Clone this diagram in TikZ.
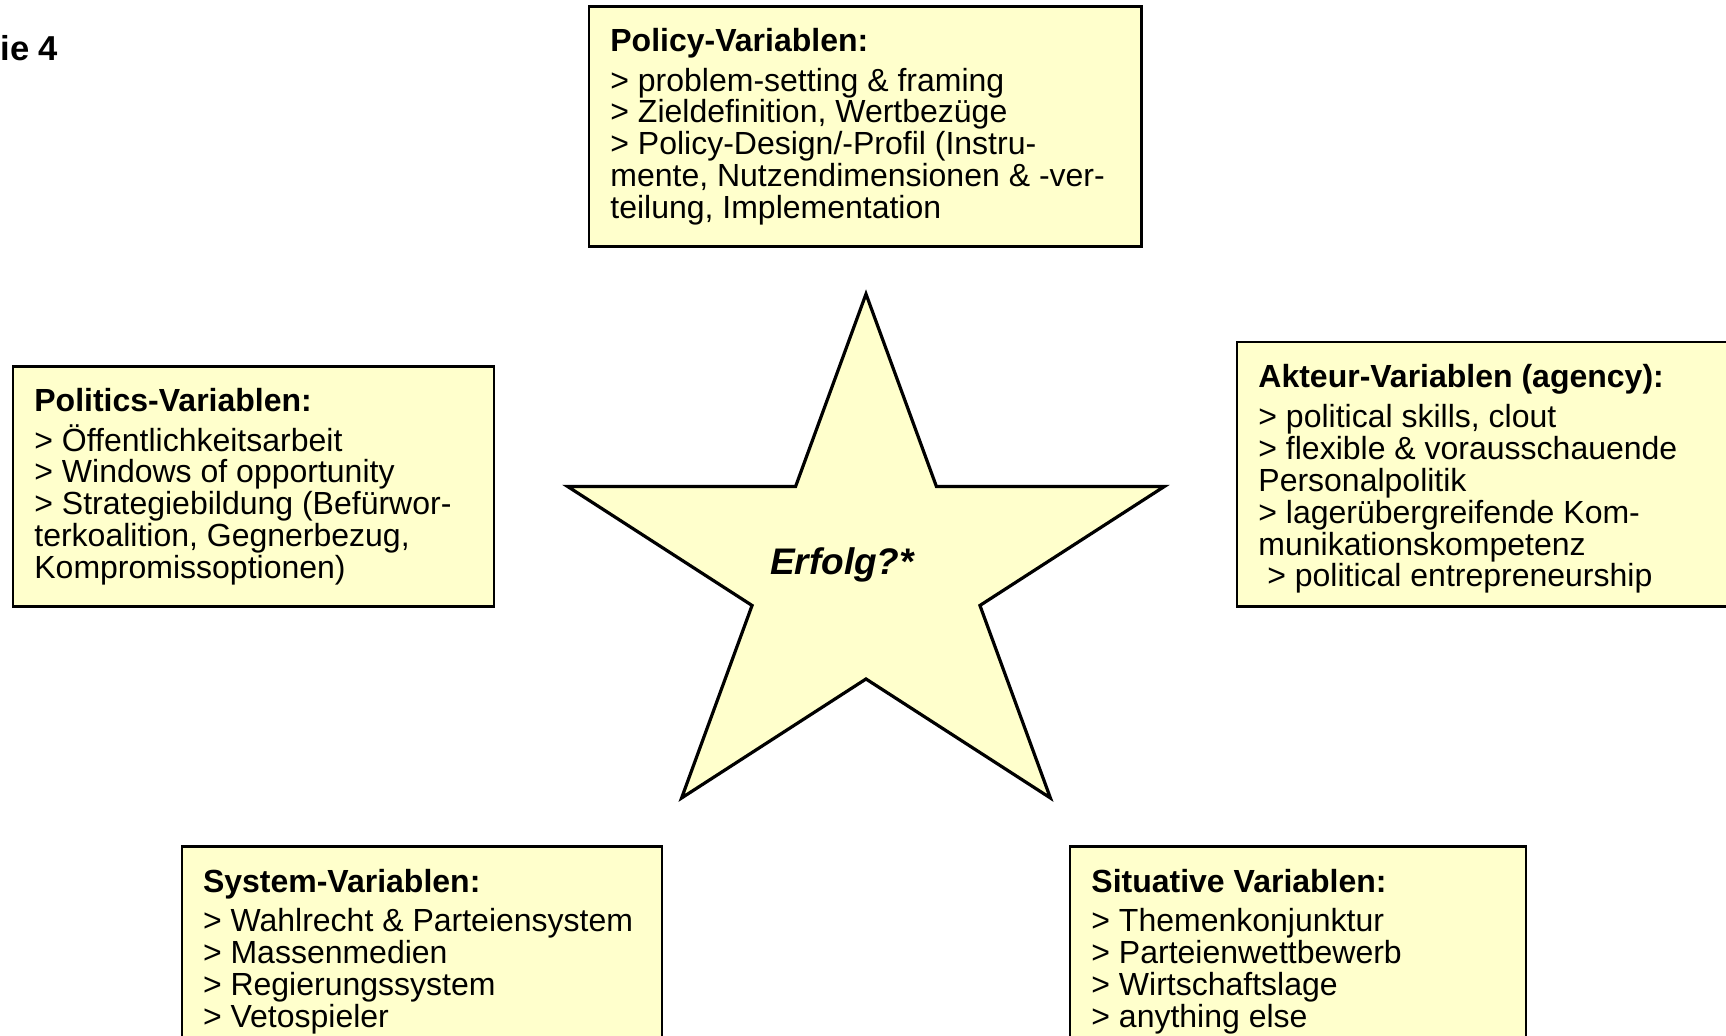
\documentclass[tikz,border=0pt]{standalone}
\usepackage{fontspec}
\setmainfont{Liberation Sans}
\usetikzlibrary{positioning}

\definecolor{varyellow}{HTML}{FFFFCC}

\tikzset{
  varbox/.style={draw=black, line width=1.1pt, fill=varyellow, anchor=north west,
    inner sep=0pt, outer sep=0pt},
  vartext/.style={anchor=north west, inner sep=0pt, align=left,
    font=\fontsize{16}{15.95}\selectfont},
  starline/.style={draw=black, line width=1.6pt, fill=varyellow, line join=miter}
}

\begin{document}
\begin{tikzpicture}[x=0.5pt,y=0.5pt]
  \clip (0,0) rectangle (1726,1036);
  \fill[white] (0,0) rectangle (1726,1036);

  % header, cut at the left edge
  \node[anchor=base west, inner sep=0pt, font=\bfseries\fontsize{17.3}{18}\selectfont] (folie) at (0,975.5) {ie 4};

  % the five boxes
  \node[varbox, minimum width=276.25pt, minimum height=120pt] (policy) at (589,1029.4) {};
  \node[varbox, minimum width=240.5pt, minimum height=120pt] (politics) at (13,669.4) {};
  \node[varbox, minimum width=260pt, minimum height=132.25pt] (akteur) at (1237,694) {};
  \node[varbox, minimum width=240pt, minimum height=120pt] (system) at (181.6,189.5) {};
  \node[varbox, minimum width=227.85pt, minimum height=120pt] (situativ) at (1070,189.5) {};

  \node[vartext, below right=10.5pt and 10.5pt of policy.north west] (policytext) {%
    \textbf{Policy-Variablen:}\\[4pt]
    > problem-setting \& framing\\
    > Zieldefinition, Wertbezüge\\
    > Policy-Design/-Profil (Instru-\\
    mente, Nutzendimensionen \& -ver-\\
    teilung, Implementation};
  \node[vartext, below right=10.5pt and 10.5pt of politics.north west] (politicstext) {%
    \textbf{Politics-Variablen:}\\[4pt]
    > Öffentlichkeitsarbeit\\
    > Windows of opportunity\\
    > Strategiebildung (Befürwor-\\
    terkoalition, Gegnerbezug,\\
    Kompromissoptionen)};
  \node[vartext, below right=11pt and 10.5pt of akteur.north west] (akteurtext) {%
    \textbf{Akteur-Variablen (agency):}\\[4pt]
    > political skills, clout\\
    > flexible \& vorausschauende\\
    Personalpolitik\\
    > lagerübergreifende Kom-\\
    munikationskompetenz\\
    \ > political entrepreneurship};
  \node[vartext, below right=11pt and 10.5pt of system.north west] (systemtext) {%
    \textbf{System-Variablen:}\\[4pt]
    > Wahlrecht \& Parteiensystem\\
    > Massenmedien\\
    > Regierungssystem\\
    > Vetospieler};
  \node[vartext, below right=11pt and 10.5pt of situativ.north west] (situativtext) {%
    \textbf{Situative Variablen:}\\[4pt]
    > Themenkonjunktur\\
    > Parteienwettbewerb\\
    > Wirtschaftslage\\
    > anything else};

  % star in the middle
  \coordinate (starcentre) at (866,463.4);
  \begin{scope}[shift={(starcentre)}, xscale=1.126]
    \draw[starline] (90:278.6)
      \foreach \k in {1,...,9} { -- ({90+36*\k}:{mod(\k,2)==1 ? 106.4 : 278.6}) } -- cycle;
  \end{scope}
  \node[font=\bfseries\itshape\fontsize{18.5}{20}\selectfont] (erfolg) at (842,470.6) {Erfolg?*};
\end{tikzpicture}
\end{document}
